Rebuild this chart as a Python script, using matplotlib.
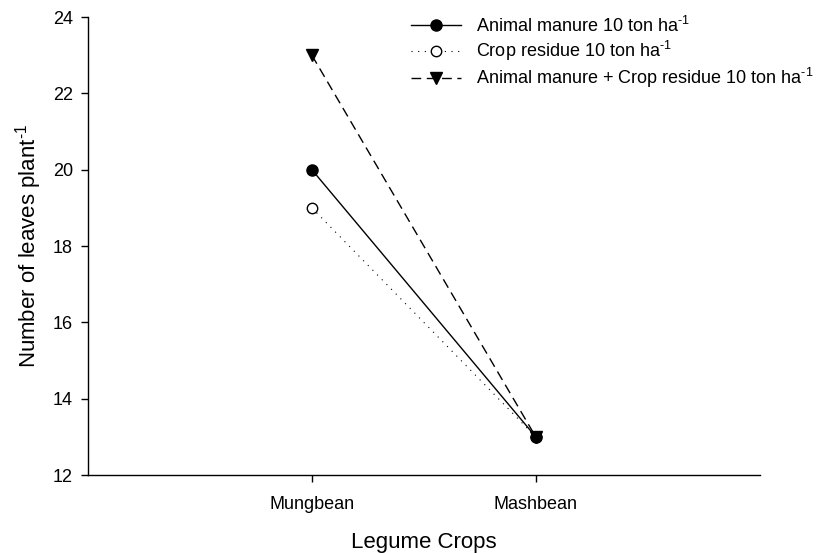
import matplotlib
matplotlib.use("Agg")
import matplotlib.pyplot as plt

plt.rcParams['font.family'] = ['Liberation Sans', 'DejaVu Sans']
plt.rcParams['mathtext.fontset'] = 'custom'
plt.rcParams['mathtext.rm'] = 'Liberation Sans'
plt.rcParams['mathtext.it'] = 'Liberation Sans:italic'
plt.rcParams['mathtext.default'] = 'regular'

crops = ["Mungbean", "Mashbean"]
animal_manure = [20, 13]
crop_residue = [19, 13]
manure_plus_residue = [23, 13]

sup = r'$^{\text{-1}}$'
labels = ['Animal manure 10 ton ha' + sup,
          'Crop residue 10 ton ha' + sup,
          'Animal manure + Crop residue 10 ton ha' + sup]

x = [1, 2]

fig = plt.figure(figsize=(8.23, 5.53), dpi=100)
ax = fig.add_axes([0.107, 0.141, 0.816, 0.828])

ax.plot(x, animal_manure, color='black', linestyle='-', linewidth=1.0,
        marker='o', markersize=8, markerfacecolor='black',
        label=labels[0], zorder=4)
ax.plot(x, crop_residue, color='black', linestyle=(0, (1, 5)), linewidth=0.8,
        marker='o', markersize=7.5, markerfacecolor='white', markeredgewidth=1.0,
        label=labels[1], zorder=3)
ax.plot(x, manure_plus_residue, color='black', linestyle=(0, (7, 4)), linewidth=1.0,
        marker='v', markersize=9, markerfacecolor='black',
        label=labels[2], zorder=2)

ax.set_xlim(0, 3)
ax.set_ylim(12, 24)
ax.set_xticks(x)
ax.set_xticklabels(crops)
ax.set_yticks(range(12, 25, 2))
ax.tick_params(direction='out', length=5, width=1, labelsize=13, pad=6)
ax.tick_params(axis='x', pad=10)

for side in ['top', 'right']:
    ax.spines[side].set_visible(False)
for side in ['left', 'bottom']:
    ax.spines[side].set_linewidth(1.0)

ax.set_xlabel("Legume Crops", fontsize=16, labelpad=14)
ax.set_ylabel("Number of leaves plant" + sup, fontsize=16, labelpad=6)

leg = ax.legend(loc='upper left', bbox_to_anchor=(0.499, 0.972), bbox_transform=fig.transFigure,
                frameon=False, fontsize=13, handlelength=2.8, handletextpad=0.8,
                labelspacing=0.18, borderaxespad=0, borderpad=0)

fig.savefig("out.png", dpi=100)
